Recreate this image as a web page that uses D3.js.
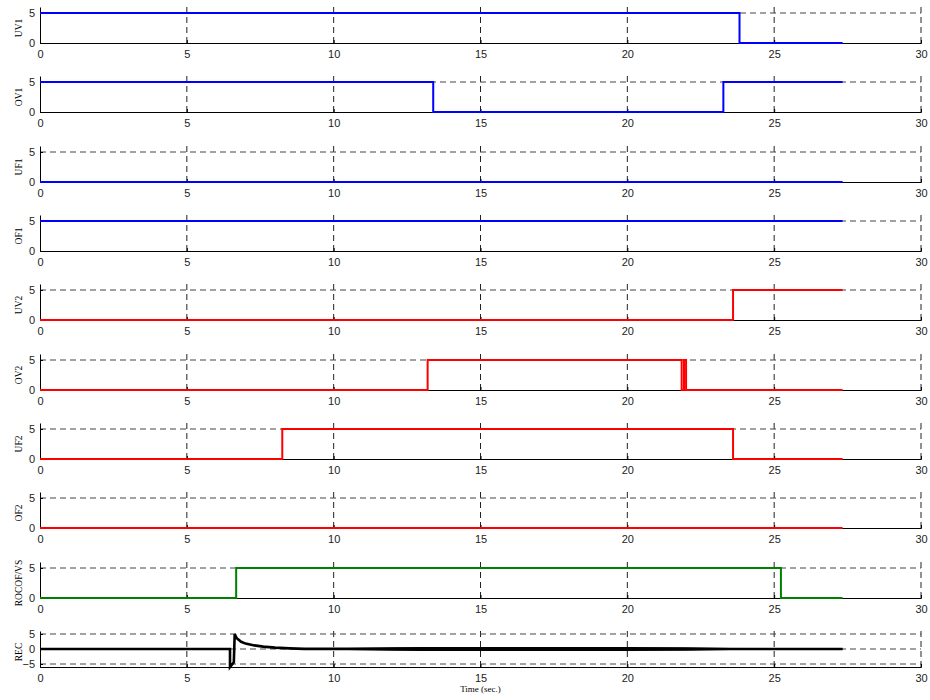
<!DOCTYPE html>
<html>
<head>
<meta charset="utf-8">
<script src="https://cdn.jsdelivr.net/npm/d3@7"></script>
<style>
  body { margin: 0; background: #fff; }
  .tick text { font-family: "Liberation Sans", Arial, sans-serif; font-size: 11px; fill: #222; }
  .ylab, .xlab { font-family: "Liberation Serif", "Times New Roman", serif; fill: #000; }
</style>
</head>
<body>
<svg id="chart" width="930" height="700"></svg>
<script>
// Signal names, top to bottom
const names = ["UV1", "OV1", "UF1", "OF1", "UV2", "OV2", "UF2", "OF2", "ROCOF/VS", "REC"];
const colors = ["#0000ff", "#0000ff", "#0000ff", "#0000ff", "#ff0000", "#ff0000", "#ff0000", "#ff0000", "#008000", "#000000"];
const xTicks = [0, 5, 10, 15, 20, 25, 30];

// step signals as [time, value]
const uv1 = [[0, 5], [23.82, 5], [23.82, 0], [27.33, 0]];
const ov1 = [[0, 5], [13.39, 5], [13.39, 0], [23.27, 0], [23.27, 5], [27.33, 5]];
const uf1 = [[0, 0], [27.33, 0]];
const of1 = [[0, 5], [27.33, 5]];
const uv2 = [[0, 0], [23.6, 0], [23.6, 5], [27.33, 5]];
const ov2 = [[0, 0], [13.2, 0], [13.2, 5], [21.85, 5], [21.85, 0], [21.93, 0], [21.93, 5], [22.0, 5], [22.0, 0], [27.33, 0]];
const uf2 = [[0, 0], [8.25, 0], [8.25, 5], [23.6, 5], [23.6, 0], [27.33, 0]];
const of2 = [[0, 0], [27.33, 0]];
const rocof = [[0, 0], [6.68, 0], [6.68, 5], [25.23, 5], [25.23, 0], [27.33, 0]];
const rec = [[0, 0], [6.47, 0], [6.47, -6], [6.6, -4.4], [6.63, 5], [6.7, 3.6], [6.85, 2.4],
  [7.0, 1.8], [7.3, 1.2], [7.6, 0.8], [8.0, 0.45], [8.5, 0.2], [9.0, 0.05], [27.33, 0]];
// noise envelope of REC [time, low, high]
const recBand = [[9.5, -0.2, 0.2], [11, -0.4, 0.4], [12, -0.6, 0.6], [13, -0.7, 0.7], [20, -0.7, 0.7],
  [22, -0.6, 0.6], [23, -0.4, 0.4], [24, -0.25, 0.25], [27.33, -0.2, 0.2]];

const series = [uv1, ov1, uf1, of1, uv2, ov2, uf2, of2, rocof, rec];

const svg = d3.select("#chart");
const left = 40, right = 921;
const panelH = 36, firstBottom = 43, step = 69.33;

const x = d3.scaleLinear().domain([0, 30]).range([left, right]);

names.forEach(function (name, i) {
    const bottom = Math.round(firstBottom + i * step);
    const isRec = name === "REC";
    const y = d3.scaleLinear()
        .domain(isRec ? [-6, 6] : [0, 6])
        .range([bottom, bottom - panelH]);
    const yTicks = isRec ? [-5, 0, 5] : [0, 5];

    const g = svg.append("g").attr("class", "panel");

    // grid
    g.selectAll(".vgrid")
        .data(xTicks.slice(1))
        .enter().append("line")
        .attr("x1", d => x(d)).attr("x2", d => x(d))
        .attr("y1", bottom).attr("y2", bottom - panelH)
        .attr("stroke", "#222").attr("stroke-width", 1)
        .attr("stroke-dasharray", "6,4");

    g.selectAll(".hgrid")
        .data(yTicks.filter(d => d !== 0 || isRec))
        .enter().append("line")
        .attr("x1", left).attr("x2", right)
        .attr("y1", d => y(d)).attr("y2", d => y(d))
        .attr("stroke", "#444").attr("stroke-width", 1)
        .attr("stroke-dasharray", "6,4");

    // axes
    const xAxis = d3.axisBottom(x).tickValues(xTicks).tickSize(-3).tickPadding(7).tickFormat(d3.format("d"));
    g.append("g")
        .attr("transform", "translate(0," + bottom + ")")
        .call(xAxis)
        .call(a => a.selectAll("line, path").attr("stroke", "#000"));

    const yAxis = d3.axisLeft(y).tickValues(yTicks).tickSize(-3).tickPadding(5).tickSizeOuter(0)
        .tickFormat(d3.format("d"));
    g.append("g")
        .attr("transform", "translate(" + left + ",0)")
        .call(yAxis)
        .call(a => a.selectAll("line, path").attr("stroke", "#000"));

    // noise band for REC
    if (isRec) {
        g.append("path")
            .datum(recBand)
            .attr("fill", "#000")
            .attr("d", d3.area().x(d => x(d[0])).y0(d => y(d[1])).y1(d => y(d[2])));
    }

    // signal
    g.append("path")
        .datum(series[i])
        .attr("fill", "none")
        .attr("stroke", colors[i])
        .attr("stroke-width", isRec ? 2.6 : 2)
        .attr("d", d3.line().x(d => x(d[0])).y(d => y(d[1])));

    // y label
    g.append("text")
        .attr("class", "ylab")
        .attr("transform", "translate(22," + (bottom - panelH / 2 + 3) + ") rotate(-90)")
        .attr("text-anchor", "middle")
        .style("font-size", "9.5px")
        .text(name);
});

svg.append("text")
    .attr("class", "xlab")
    .attr("x", (left + right) / 2)
    .attr("y", 692)
    .attr("text-anchor", "middle")
    .style("font-size", "9px")
    .text("Time (sec.)");
</script>
</body>
</html>
